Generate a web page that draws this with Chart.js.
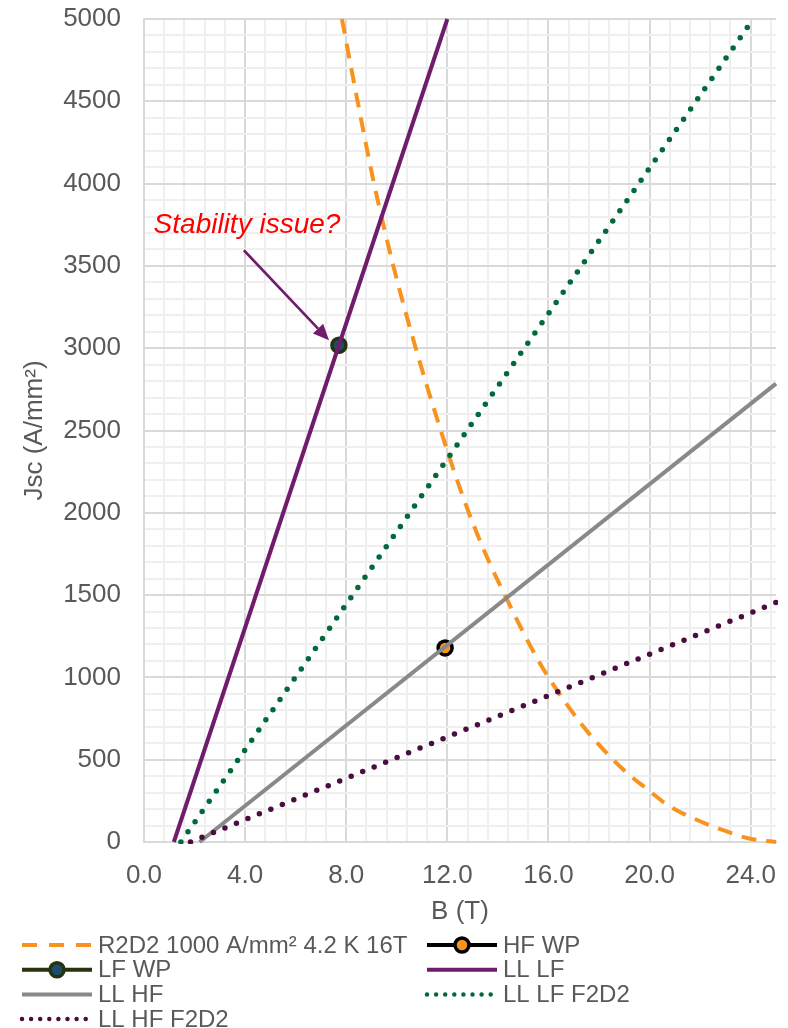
<!DOCTYPE html>
<html>
<head>
<meta charset="utf-8">
<script src="https://cdn.jsdelivr.net/npm/chart.js@4.4.1/dist/chart.umd.min.js"></script>
<style>
  html, body { margin: 0; padding: 0; background: #ffffff; }
  #wrap { width: 788px; height: 1028px; position: relative; }
</style>
</head>
<body>
<div id="wrap"><canvas id="chart"></canvas></div>
<script>
// R2D2 critical-current curve at 4.2 K, magnet load lines and working points
const r2d2B = [7.83, 8.45, 9.1, 9.88, 10.75, 11.74, 12.62, 13.45, 14.44, 15.46, 16.0, 17.41, 18.2, 18.99, 19.88, 20.77, 21.76, 22.82, 23.94, 25.0];
const r2d2J = [5000, 4500, 4000, 3490, 3000, 2500, 2096, 1772, 1448, 1140, 1000, 695, 557, 436, 324, 219, 142, 77, 21, 0];

const hfWpB = [11.91];
const hfWpJ = [1179];
const lfWpB = [7.71];
const lfWpJ = [3018];

const llLfB = [1.18, 12.0];
const llLfJ = [0, 5000];
const llHfB = [2.2, 25.0];
const llHfJ = [0, 2785];
const llLfF2d2B = [1.46, 24.1];
const llLfF2d2J = [0, 5000];
const llHfF2d2B = [1.84, 25.0];
const llHfF2d2J = [0, 1455];

const seriesNames = ['R2D2 1000 A/mm² 4.2 K 16T', 'HF WP', 'LF WP', 'LL LF', 'LL HF', 'LL LF F2D2', 'LL HF F2D2'];

// axis ticks (labelled major ticks; unlabeled minor grid in between)
const xMajorTicks = [0, 4, 8, 12, 16, 20, 24];
const xMinorStep = 0.8;
const yMajorTicks = [0, 500, 1000, 1500, 2000, 2500, 3000, 3500, 4000, 4500, 5000];
const yMinorStep = 100;
const xRange = [0, 25];
const yRange = [0, 5000];
const xTitle = 'B (T)';
const yTitle = 'Jsc (A/mm²)';

// annotation
const noteText = 'Stability issue?';
const noteArrowB = [3.95, 7.32];
const noteArrowJ = [3595, 3048];

const TEXT = '#595959';
const FONT = "'Liberation Sans', Arial, sans-serif";
Chart.defaults.font.family = FONT;

const pts = (xs, ys) => xs.map((x, i) => ({ x: x, y: ys[i] }));
const isMajor = (v, list) => list.some(m => Math.abs(m - v) < 1e-6);

function buildTicks(majors, step, max) {
  const out = [];
  for (let i = 0; i < majors.length; i++) {
    const m = majors[i];
    out.push({ value: m });
    const next = i + 1 < majors.length ? majors[i + 1] : max;
    for (let v = m + step; v < next - 1e-6; v += step) out.push({ value: +v.toFixed(6) });
  }
  return out;
}

const datasets = [
  { label: seriesNames[0], data: pts(r2d2B, r2d2J), borderColor: '#f8931f', borderWidth: 4,
    borderDash: [15, 10], cubicInterpolationMode: 'monotone', showLine: true, pointRadius: 0,
    legendDash: [15, 12] },
  { label: seriesNames[1], data: pts(hfWpB, hfWpJ), borderColor: '#000000', borderWidth: 4,
    pointRadius: 7, pointBorderWidth: 3.5, pointBorderColor: '#000000', pointBackgroundColor: '#f7931e' },
  { label: seriesNames[2], data: pts(lfWpB, lfWpJ), borderColor: '#26330f', borderWidth: 4,
    pointRadius: 7, pointBorderWidth: 3.5, pointBorderColor: '#26330f', pointBackgroundColor: '#1b4d6e' },
  { label: seriesNames[3], data: pts(llLfB, llLfJ), borderColor: '#701c6c', borderWidth: 4,
    showLine: true, pointRadius: 0 },
  { label: seriesNames[4], data: pts(llHfB, llHfJ), borderColor: '#898989', borderWidth: 4,
    showLine: true, pointRadius: 0 },
  { label: seriesNames[5], data: pts(llLfF2d2B, llLfF2d2J), borderColor: '#006a3b', borderWidth: 5.5,
    borderDash: [0, 12.4], borderCapStyle: 'round', showLine: true, pointRadius: 0,
    legendDash: [0, 9.1], legendWidth: 4.5 },
  { label: seriesNames[6], data: pts(llHfF2d2B, llHfF2d2J), borderColor: '#4a0d40', borderWidth: 5.5,
    borderDash: [0, 12.4], borderCapStyle: 'round', showLine: true, pointRadius: 0,
    legendDash: [0, 9.1], legendWidth: 4.5 }
];
// later series sit on top of earlier ones
datasets.forEach((d, i) => { d.order = datasets.length - i; d.clip = 2; });

// two-column legend under the axis title
const gridLegend = {
  id: 'gridLegend',
  afterDraw(chart, args, o) {
    const ctx = chart.ctx;
    chart.data.datasets.forEach((ds, i) => {
      const col = i % 2, row = Math.floor(i / 2);
      const x0 = o.colX[col];
      const y = o.rowY + row * o.rowGap;
      ctx.save();
      ctx.strokeStyle = ds.borderColor;
      ctx.lineWidth = ds.legendWidth || ds.borderWidth;
      ctx.setLineDash(ds.legendDash || []);
      ctx.lineCap = ds.borderCapStyle || 'butt';
      ctx.beginPath();
      ctx.moveTo(x0, y);
      ctx.lineTo(x0 + o.swatch, y);
      ctx.stroke();
      if (ds.pointRadius > 0) {
        ctx.setLineDash([]);
        ctx.beginPath();
        ctx.arc(x0 + o.swatch / 2, y, ds.pointRadius, 0, Math.PI * 2);
        ctx.fillStyle = ds.pointBackgroundColor;
        ctx.fill();
        ctx.lineWidth = ds.pointBorderWidth;
        ctx.strokeStyle = ds.pointBorderColor;
        ctx.stroke();
      }
      ctx.fillStyle = TEXT;
      ctx.font = o.fontSize + 'px ' + FONT;
      ctx.textBaseline = 'middle';
      ctx.textAlign = 'left';
      ctx.fillText(ds.label, x0 + o.swatch + o.gap, y + 1);
      ctx.restore();
    });
  }
};

// arrow and note pointing at the low-field working point
const notePlugin = {
  id: 'note',
  afterDatasetsDraw(chart, args, o) {
    const { ctx, scales: { x, y } } = chart;
    const x1 = x.getPixelForValue(noteArrowB[0]), y1 = y.getPixelForValue(noteArrowJ[0]);
    const x2 = x.getPixelForValue(noteArrowB[1]), y2 = y.getPixelForValue(noteArrowJ[1]);
    const ang = Math.atan2(y2 - y1, x2 - x1);
    const head = 16, half = 7;
    const bx = x2 - head * Math.cos(ang), by = y2 - head * Math.sin(ang);
    ctx.save();
    ctx.strokeStyle = o.color;
    ctx.fillStyle = o.color;
    ctx.lineWidth = 2.6;
    ctx.beginPath();
    ctx.moveTo(x1, y1);
    ctx.lineTo(bx, by);
    ctx.stroke();
    ctx.beginPath();
    ctx.moveTo(x2, y2);
    ctx.lineTo(bx + half * Math.sin(ang), by - half * Math.cos(ang));
    ctx.lineTo(bx - half * Math.sin(ang), by + half * Math.cos(ang));
    ctx.closePath();
    ctx.fill();
    ctx.font = 'italic 28px ' + FONT;
    ctx.fillStyle = o.textColor;
    ctx.textBaseline = 'alphabetic';
    ctx.textAlign = 'left';
    ctx.fillText(noteText, x.getPixelForValue(o.textB), y.getPixelForValue(o.textJ));
    ctx.restore();
  }
};

const gridColor = (v, majors, edge) => {
  if (Math.abs(v - edge) < 1e-6 && !isMajor(v, majors)) return 'rgba(0,0,0,0)';
  return isMajor(v, majors) ? '#d9d9d9' : '#efefef';
};

new Chart(document.getElementById('chart'), {
  type: 'scatter',
  data: { datasets: datasets },
  plugins: [gridLegend, notePlugin],
  options: {
    responsive: true,
    maintainAspectRatio: false,
    animation: false,
    events: [],
    layout: { padding: { top: 19, right: 12, left: 0, bottom: 0 } },
    plugins: {
      legend: { display: false },
      tooltip: { enabled: false },
      gridLegend: { colX: [22, 427], rowY: 945, rowGap: 24.7, swatch: 70, gap: 6, fontSize: 24 },
      note: { color: '#701c6c', textColor: '#ff0000', textB: 0.38, textJ: 3700 }
    },
    scales: {
      x: {
        type: 'linear', min: xRange[0], max: xRange[1],
        afterBuildTicks: s => { s.ticks = buildTicks(xMajorTicks, xMinorStep, xRange[1]); },
        afterFit: s => { s.height = 186; s.paddingLeft = 0; s.paddingRight = 0; },
        ticks: {
          autoSkip: false, maxRotation: 0, padding: 18, color: TEXT, font: { size: 26 },
          callback: v => (isMajor(v, xMajorTicks) ? v.toFixed(1) : '')
        },
        grid: { drawTicks: false, lineWidth: 2, color: c => gridColor(c.tick.value, xMajorTicks, xRange[1]) },
        border: { color: '#d9d9d9', width: 2 },
        title: { display: true, text: xTitle, color: TEXT, font: { size: 26 }, padding: { top: 0, bottom: 101 } }
      },
      y: {
        type: 'linear', min: yRange[0], max: yRange[1],
        afterBuildTicks: s => { s.ticks = buildTicks(yMajorTicks, yMinorStep, yRange[1]); },
        afterFit: s => { s.width = 144; s.paddingTop = 0; s.paddingBottom = 0; },
        ticks: {
          autoSkip: false, padding: 23, color: TEXT, font: { size: 26 },
          callback: v => (isMajor(v, yMajorTicks) ? String(v) : '')
        },
        grid: { drawTicks: false, lineWidth: 2, color: c => gridColor(c.tick.value, yMajorTicks, yRange[1]) },
        border: { color: '#d9d9d9', width: 2 },
        title: { display: true, text: yTitle, color: TEXT, font: { size: 26 }, padding: { top: 19, bottom: 0 } }
      }
    }
  }
});
</script>
</body>
</html>
